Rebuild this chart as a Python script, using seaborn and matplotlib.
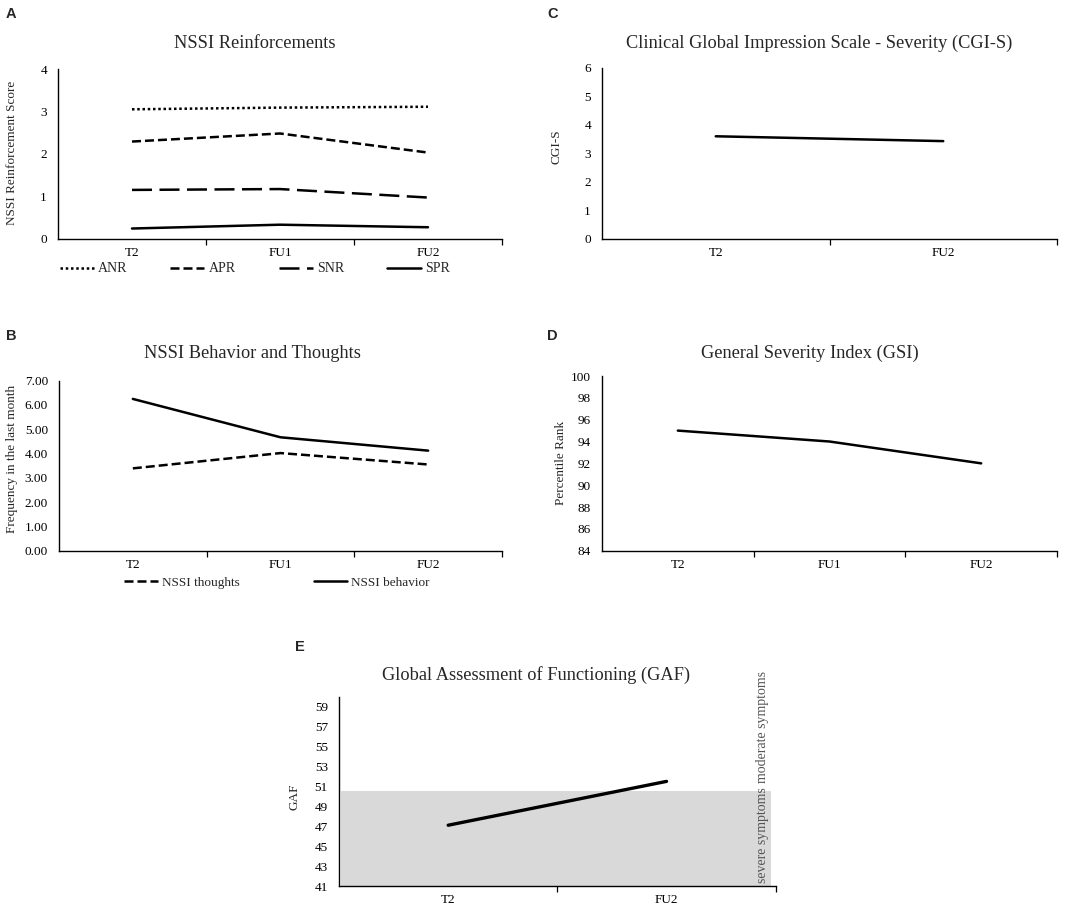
import pandas as pd
import numpy as np
import seaborn as sns
import matplotlib.pyplot as plt
from matplotlib.ticker import FixedLocator, FormatStrFormatter

# panel A - NSSI reinforcements
times_a = ["T2", "FU1", "FU2"]
anr = [3.05, 3.09, 3.11]
apr = [2.29, 2.48, 2.03]
snr = [1.15, 1.17, 0.97]
spr = [0.24, 0.33, 0.27]
scales_a = ["ANR", "APR", "SNR", "SPR"]

# panel B - behavior and thoughts
times_b = ["T2", "FU1", "FU2"]
nssi_thoughts = [3.39, 4.02, 3.55]
nssi_behavior = [6.25, 4.67, 4.12]
series_b = ["NSSI thoughts", "NSSI behavior"]

# panel C - CGI-S
times_c = ["T2", "FU2"]
cgi_s = [3.60, 3.43]

# panel D - GSI
times_d = ["T2", "FU1", "FU2"]
gsi = [95.0, 94.0, 92.0]

# panel E - GAF
times_e = ["T2", "FU2"]
gaf = [47.1, 51.5]
severe_cutoff = 50.5

W, H = 1084, 913

sns.set_theme(style="white")
plt.rcParams["font.family"] = ["Liberation Serif", "DejaVu Serif"]

fig = plt.figure(figsize=(W / 100, H / 100), dpi=100)


def px_axes(left, top, right, bottom):
    return fig.add_axes([left / W, 1 - bottom / H, (right - left) / W, (bottom - top) / H])


def fx(x):
    return x / W


def fy(y):
    return 1 - y / H


def style_axes(ax, n, ylim, yticks):
    ax.set_xlim(-0.5, n - 0.5)
    ax.set_ylim(*ylim)
    ax.set_yticks(yticks)
    ax.set_xticks(range(n))
    ax.xaxis.set_minor_locator(FixedLocator([k + 0.5 for k in range(n)]))
    ax.tick_params(axis="x", which="major", length=0, pad=6, labelsize=9.5, colors="black")
    ax.tick_params(axis="x", which="minor", length=4, width=0.9, direction="out", color="black", bottom=True)
    ax.tick_params(axis="y", length=0, pad=8, labelsize=9.5, colors="black")
    for s in ["top", "right"]:
        ax.spines[s].set_visible(False)
    for s in ["left", "bottom"]:
        ax.spines[s].set_color("black")
        ax.spines[s].set_linewidth(1.0)
    ax.set_xlabel("")
    ax.set_ylabel("")


# ---- A
ax_a = px_axes(58, 69, 502, 238.7)
df_a = pd.DataFrame({
    "time": times_a * 4,
    "score": anr + apr + snr + spr,
    "scale": [s for s in scales_a for _ in times_a],
})
dashes_a = {"ANR": (1, 1.1), "APR": (3.6, 1.6), "SNR": (8, 3), "SPR": ""}
sns.lineplot(data=df_a, x="time", y="score", style="scale", style_order=scales_a,
             dashes=dashes_a, color="black", linewidth=1.8, sort=False, ax=ax_a)
style_axes(ax_a, 3, (0, 4), range(0, 5))
h, l = ax_a.get_legend_handles_labels()
ax_a.get_legend().remove()
fig.legend(h, l, loc="center", bbox_to_anchor=(fx(255), fy(269)), ncol=4, frameon=False,
           fontsize=10, handlelength=2.45, handletextpad=0.3, columnspacing=3.1)

# ---- B
ax_b = px_axes(59, 380.7, 502, 550.7)
df_b = pd.DataFrame({
    "time": times_b * 2,
    "freq": nssi_thoughts + nssi_behavior,
    "series": [s for s in series_b for _ in times_b],
})
sns.lineplot(data=df_b, x="time", y="freq", style="series", style_order=series_b,
             dashes={"NSSI thoughts": (3.6, 1.6), "NSSI behavior": ""},
             color="black", linewidth=1.8, sort=False, ax=ax_b)
style_axes(ax_b, 3, (0, 7), range(0, 8))
ax_b.yaxis.set_major_formatter(FormatStrFormatter("%.2f"))
h, l = ax_b.get_legend_handles_labels()
ax_b.get_legend().remove()
fig.legend(h, l, loc="center", bbox_to_anchor=(fx(277), fy(583)), ncol=2, frameon=False,
           fontsize=9.5, handlelength=2.55, handletextpad=0.3, columnspacing=5.6)

# ---- C
ax_c = px_axes(602, 68, 1057, 238.7)
df_c = pd.DataFrame({"time": times_c, "cgi": cgi_s})
sns.lineplot(data=df_c, x="time", y="cgi", color="black", linewidth=1.8, sort=False, ax=ax_c)
style_axes(ax_c, 2, (0, 6), range(0, 7))

# ---- D
ax_d = px_axes(602, 376, 1057, 550.7)
df_d = pd.DataFrame({"time": times_d, "gsi": gsi})
sns.lineplot(data=df_d, x="time", y="gsi", color="black", linewidth=1.8, sort=False, ax=ax_d)
style_axes(ax_d, 3, (84, 100), range(84, 101, 2))

# ---- E
ax_e = px_axes(339, 696.7, 775.7, 886)
ax_e.axhspan(41, severe_cutoff, xmin=0.005, xmax=0.99, color="#d9d9d9", lw=0, zorder=0)
df_e = pd.DataFrame({"time": times_e, "gaf": gaf})
sns.lineplot(data=df_e, x="time", y="gaf", color="black", linewidth=2.4, sort=False, ax=ax_e)
style_axes(ax_e, 2, (41, 60), range(41, 60, 2))
ax_e.text(0.97, 41.3, "severe symptoms", transform=ax_e.get_yaxis_transform(),
          rotation=90, ha="center", va="bottom", fontsize=10, color="#555555")
ax_e.text(0.97, 51.3, "moderate symptoms", transform=ax_e.get_yaxis_transform(),
          rotation=90, ha="center", va="bottom", fontsize=10, color="#555555", clip_on=False)

# titles
title_kw = dict(ha="center", va="center", fontsize=13.2)
fig.text(fx(255), fy(43), "NSSI Reinforcements", **title_kw)
fig.text(fx(252), fy(354), "NSSI Behavior and Thoughts", **title_kw)
fig.text(fx(819), fy(43), "Clinical Global Impression Scale - Severity (CGI-S)", **title_kw)
fig.text(fx(810), fy(353), "General Severity Index (GSI)", **title_kw)
fig.text(fx(536), fy(675), "Global Assessment of Functioning (GAF)", **title_kw)

# y labels
ylab_kw = dict(ha="center", va="center", rotation=90, fontsize=9.5)
fig.text(fx(12), fy(153), "NSSI Reinforcement Score", **ylab_kw)
fig.text(fx(12), fy(459), "Frequency in the last month", **ylab_kw)
fig.text(fx(557), fy(147), "CGI-S", **ylab_kw)
fig.text(fx(561), fy(463), "Percentile Rank", **ylab_kw)
fig.text(fx(295), fy(797), "GAF", **ylab_kw)

# panel letters
lab_kw = dict(ha="left", va="top", fontsize=10.5, fontweight="bold",
              family=["Liberation Sans", "DejaVu Sans"])
fig.text(fx(6), fy(7), "A", **lab_kw)
fig.text(fx(6), fy(329), "B", **lab_kw)
fig.text(fx(547), fy(7), "C", **lab_kw)
fig.text(fx(547), fy(329), "D", **lab_kw)
fig.text(fx(295), fy(640), "E", **lab_kw)

fig.savefig("out.png", dpi=100, facecolor="white")
